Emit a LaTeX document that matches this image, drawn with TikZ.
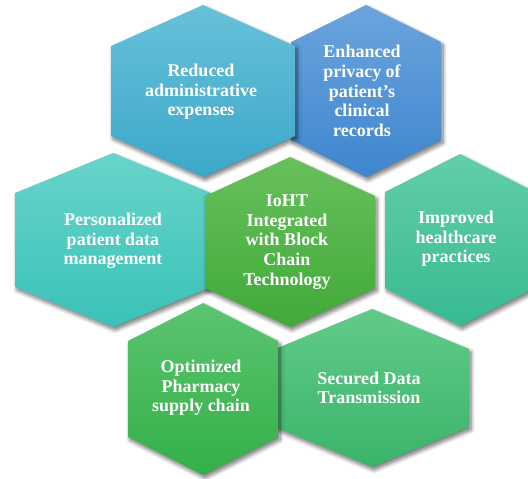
\documentclass[tikz,border=0pt]{standalone}
\usepackage{fontspec}
\newfontfamily\cellfont{Liberation Serif}[Ligatures=TeX]
\usetikzlibrary{shadows.blur}

\definecolor{costTop}{RGB}{104,192,217}
\definecolor{costBot}{RGB}{60,168,202}
\definecolor{privTop}{RGB}{108,164,222}
\definecolor{privBot}{RGB}{62,134,206}
\definecolor{persTop}{RGB}{104,212,202}
\definecolor{persBot}{RGB}{58,194,184}
\definecolor{iohtTop}{RGB}{104,192,92}
\definecolor{iohtBot}{RGB}{64,170,56}
\definecolor{careTop}{RGB}{98,206,168}
\definecolor{careBot}{RGB}{56,186,146}
\definecolor{pharTop}{RGB}{92,196,112}
\definecolor{pharBot}{RGB}{50,176,72}
\definecolor{secuTop}{RGB}{98,202,138}
\definecolor{secuBot}{RGB}{58,180,106}

% centre x, centre y, half width, half height, half side
\newcommand{\hexpath}[5]{(#1,#2-#4) -- (#1+#3,#2-#5) -- (#1+#3,#2+#5) -- (#1,#2+#4) -- (#1-#3,#2+#5) -- (#1-#3,#2-#5) -- cycle}

\begin{document}
\begin{tikzpicture}[x=1pt,y=-1pt,
		cell/.style={blur shadow={shadow xshift=2pt,shadow yshift=-3pt,shadow blur radius=4pt,shadow blur steps=8,shadow opacity=55}},
		lbl/.style={text=white,align=center,inner sep=0pt,font=\cellfont\bfseries\fontsize{18}{19.6}\selectfont}]

		\useasboundingbox (0,0) rectangle (528,479);

		% outer cells, back ones first
		\path[cell,top color=privTop,bottom color=privBot] \hexpath{366}{91}{75}{86}{49};
		\path[cell,top color=costTop,bottom color=costBot] \hexpath{203}{91}{92}{86}{45};
		\path[cell,top color=persTop,bottom color=persBot] \hexpath{113}{240}{98}{87}{47};
		\path[cell,top color=careTop,bottom color=careBot] \hexpath{460}{240}{75}{86}{48};
		\path[cell,top color=secuTop,bottom color=secuBot] \hexpath{372}{388}{97}{79}{39};
		\path[cell,top color=pharTop,bottom color=pharBot] \hexpath{203}{389}{75}{86}{48};

		% middle cell on top
		\path[cell,top color=iohtTop,bottom color=iohtBot] \hexpath{290}{242}{85}{85}{46};

		\node[lbl] (cost) at (201,92) {Reduced\\administrative\\expenses};
		\node[lbl] (privacy) at (362,91) {Enhanced\\privacy of\\patient’s\\clinical\\records};
		\node[lbl] (personal) at (113,241) {Personalized\\patient data\\management};
		\node[lbl] (ioht) at (287,242) {IoHT\\Integrated\\with Block\\Chain\\Technology};
		\node[lbl] (care) at (456,239) {Improved\\healthcare\\practices};
		\node[lbl] (pharmacy) at (201,388) {Optimized\\Pharmacy\\supply chain};
		\node[lbl] (secure) at (369,388) {Secured Data\\Transmission};

	\end{tikzpicture}
\end{document}
